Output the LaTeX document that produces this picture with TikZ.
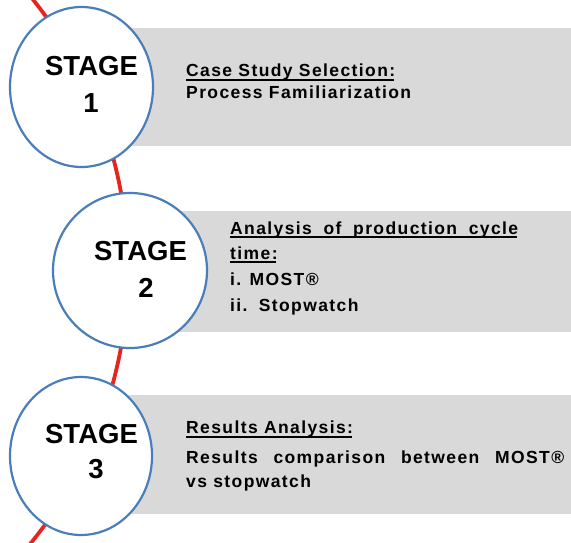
\documentclass[tikz,border=0pt]{standalone}
\usepackage{fontspec}
\setmainfont{Liberation Sans}
\newfontfamily\bodyfont[LetterSpace=8]{Liberation Sans}
\usetikzlibrary{shapes.geometric}

\definecolor{panelgray}{RGB}{217,217,217}
\definecolor{ringblue}{RGB}{74,126,187}
\definecolor{spinered}{RGB}{228,38,30}

% underlined heading with a rule at a fixed depth below the baseline
\newcommand\headline[1]{\setbox0=\hbox{#1}\rlap{\rule[-4.2pt]{\dimexpr\wd0-1.5pt\relax}{1.8pt}}\box0}

\tikzset{
  panel/.style={fill=panelgray, draw=none, rectangle, inner sep=0pt, anchor=north west},
  stagering/.style={ellipse, draw=ringblue, line width=2.2pt, fill=white, inner sep=0pt},
  stagelabel/.style={inner sep=0pt, anchor=base, font=\bfseries\fontsize{27.5}{30}\selectfont},
  bodytext/.style={inner sep=0pt, anchor=base west, font=\bodyfont\bfseries\fontsize{17.5}{19}\selectfont},
  spine/.style={draw=spinered, line width=3.8pt},
}

\begin{document}
\begin{tikzpicture}[x=1pt, y=-1pt]
  \useasboundingbox (0,0) rectangle (571,543);
  \fill[white] (0,0) rectangle (571,543);

  % red timeline: a wide arc bulging to the right
  \begin{scope}
    \clip (0,0) rectangle (571,543);
    \draw[spine] plot[domain=-42:42, samples=80, smooth]
      ({-304.5+432.5*cos(\x)}, {270+432.5*sin(\x)});
  \end{scope}

  % grey panels
  \node[panel, minimum width=490pt, minimum height=118pt] (p1) at (81,28) {};
  \node[panel, minimum width=441pt, minimum height=121pt] (p2) at (130,211) {};
  \node[panel, minimum width=490pt, minimum height=119pt] (p3) at (81,395) {};

  % stage rings
  \node[stagering, minimum width=143pt, minimum height=160pt] (s1) at (81.5,87) {};
  \node[stagering, minimum width=154pt, minimum height=155pt] (s2) at (130,270.5) {};
  \node[stagering, minimum width=142pt, minimum height=158pt] (s3) at (81,456) {};

  % stage labels
  \node[stagelabel] (t1) at (91.5,76) {STAGE};
  \node[stagelabel] (n1) at (91,113) {1};
  \node[stagelabel] (t2) at (140.5,260) {STAGE};
  \node[stagelabel] (n2) at (146,297) {2};
  \node[stagelabel] (t3) at (91.5,443) {STAGE};
  \node[stagelabel] (n3) at (96,478) {3};

  % stage 1 text
  \node[bodytext] (h1) at (186,76.5) {\headline{Case Study Selection:}};
  \node[bodytext] (b1) at (186,99) {Process Familiarization};

  % stage 2 text
  \node[bodytext] (h2a) at (230,234) {\headline{\makebox[288pt][s]{Analysis of production cycle}}};
  \node[bodytext] (h2b) at (230,259) {\headline{time:}};
  \node[bodytext] (b2a) at (230,285) {i. MOST®};
  \node[bodytext] (b2b) at (230,311) {ii.\, Stopwatch};

  % stage 3 text
  \node[bodytext] (h3) at (186,433.3) {\headline{Results Analysis:}};
  \node[bodytext] (b3a) at (186,463.3) {\makebox[378pt][s]{Results comparison between MOST®}};
  \node[bodytext] (b3b) at (186,487.3) {vs stopwatch};
\end{tikzpicture}
\end{document}
